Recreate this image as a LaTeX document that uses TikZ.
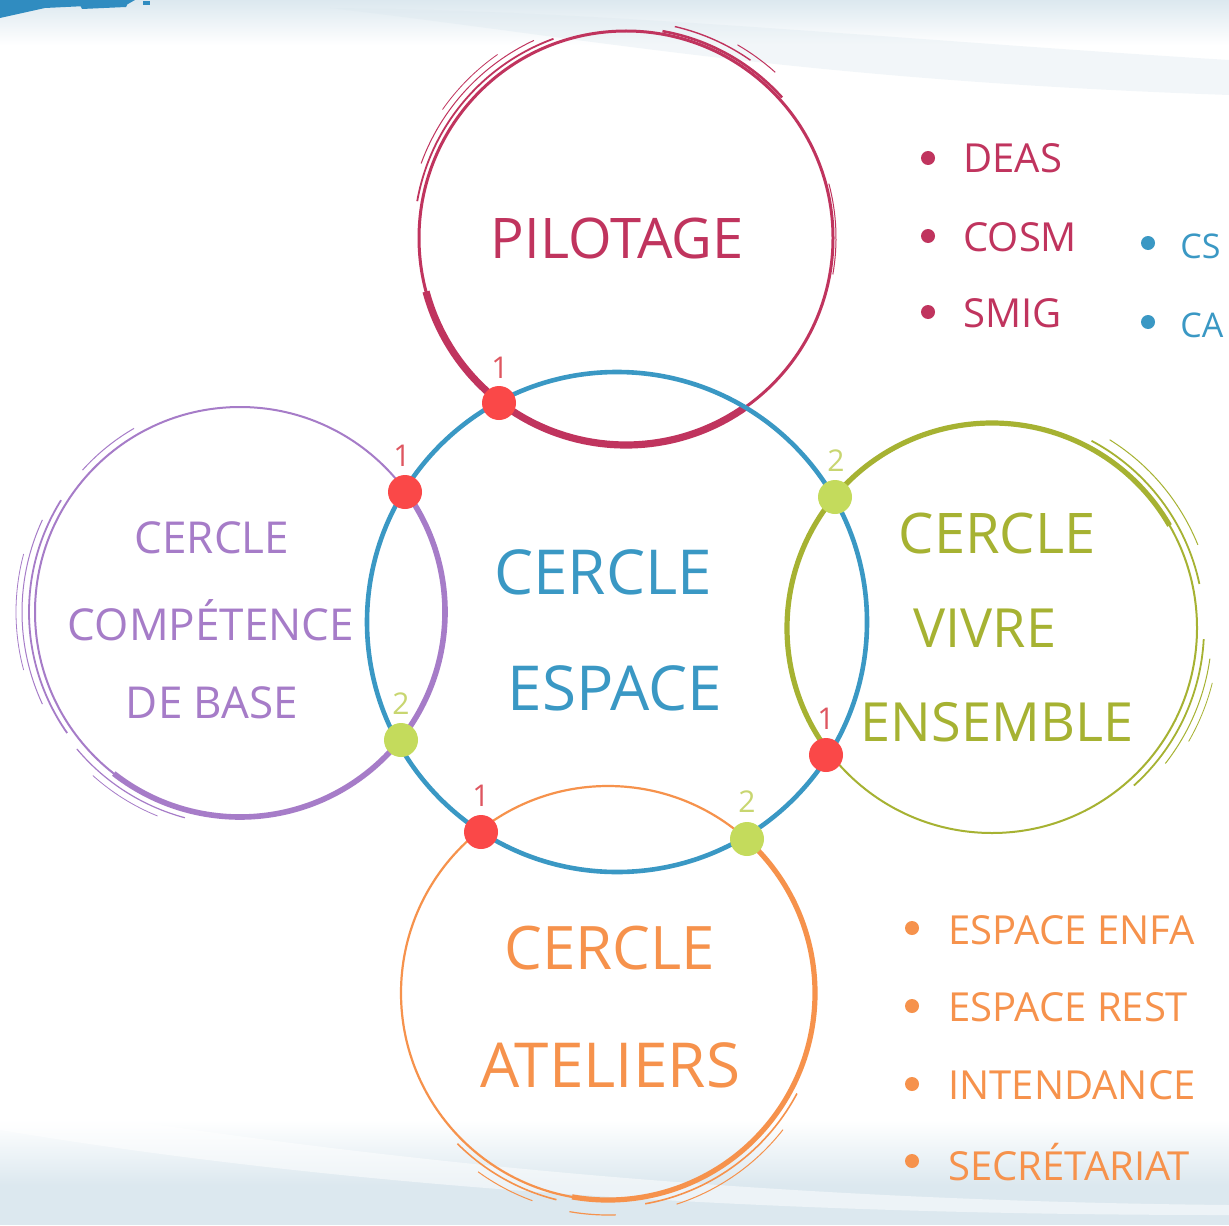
\documentclass[tikz,border=0pt]{standalone}
\usepackage{fontspec}
\setmainfont{Open Sans}
\usetikzlibrary{calc}
\definecolor{pilc}{RGB}{192,52,94}
\definecolor{bluc}{RGB}{58,152,196}
\definecolor{purc}{RGB}{166,124,200}
\definecolor{grnc}{RGB}{166,178,50}
\definecolor{orac}{RGB}{246,146,76}
\definecolor{dotred}{RGB}{250,72,72}
\definecolor{dotgrn}{RGB}{196,219,92}
\definecolor{lblred}{RGB}{222,86,96}
\definecolor{lblgrn}{RGB}{200,214,112}
\definecolor{bgband}{RGB}{220,232,239}
\definecolor{brush}{RGB}{48,140,192}
\newcommand\myfs[1]{\fontsize{#1}{#1}\selectfont}
% #1 style, #2 centre, #3 start angle, #4 end angle, #5 radius
\newcommand\skarc[5]{\draw[#1] (#2) ++(#3:#5) arc[start angle=#3, end angle=#4, radius=#5];}
\tikzset{
  ttl/.style={inner sep=0pt, anchor=center},
  dotnode/.style={circle, inner sep=0pt, minimum size=17pt, draw=none},
  numlbl/.style={inner sep=0pt, font=\myfs{15}},
  bullet/.style={circle, inner sep=0pt, minimum size=7pt, draw=none},
  item/.style={inner sep=0pt, anchor=west, font=\myfs{20}},
}
\begin{document}
\begin{tikzpicture}[x=0.5pt,y=-0.5pt]
\useasboundingbox (0,0) rectangle (1229,1225);
% background
\begin{scope}
\clip (0,0) rectangle (1229,1225);
\fill[white] (0,0) rectangle (1229,1225);
\fill[top color=bgband, bottom color=white] (0,0) rectangle (1229,45);
\fill[bgband, opacity=0.35] (330,8) .. controls (600,40) and (800,80) .. (1229,95) -- (1229,60) .. controls (900,40) and (600,10) .. (330,8) -- cycle;
\fill[top color=white, bottom color=bgband] (0,1120) rectangle (1229,1185);
\fill[bgband] (0,1185) rectangle (1229,1225);
\fill[white, opacity=0.5] (0,1100) .. controls (300,1150) and (700,1200) .. (1229,1205) -- (1229,1215) .. controls (700,1215) and (300,1180) .. (0,1130) -- cycle;
\fill[brush] (0,0) -- (135,0) -- (128,4) -- (45,8) -- (0,18) -- cycle;
\fill[brush] (80,5) -- (128,3) -- (126,7) -- (82,9) -- cycle;
\fill[brush] (143,1) -- (150,1) -- (150,5) -- (143,5) -- cycle;
\end{scope}

% centres
\coordinate (cP) at (626,238);
\coordinate (cB) at (617,622);
\coordinate (cC) at (240,612);
\coordinate (cG) at (992,628);
\coordinate (cO) at (608,993);

% PILOTAGE circle
\draw[pilc, line width=1.5pt] (cP) circle[radius=207];
\skarc{pilc, line width=3.6pt}{cP}{165}{55}{207}
\skarc{pilc, line width=0.9pt}{cP}{190}{250}{212}
\skarc{pilc, line width=0.5pt}{cP}{200}{245}{218}
\skarc{pilc, line width=0.4pt}{cP}{215}{235}{224}
\skarc{pilc, line width=1.3pt}{cP}{280}{318}{210}
\skarc{pilc, line width=0.7pt}{cP}{283}{305}{217}
\skarc{pilc, line width=0.5pt}{cP}{300}{312}{223}
\skarc{pilc, line width=0.5pt}{cP}{-15}{10}{210}

% COMPETENCE circle
\draw[purc, line width=1pt] (cC) circle[radius=205];
\skarc{purc, line width=2.8pt}{cC}{-35}{128}{205}
\skarc{purc, line width=0.9pt}{cC}{145}{212}{211}
\skarc{purc, line width=0.5pt}{cC}{155}{205}{218}
\skarc{purc, line width=0.4pt}{cC}{165}{195}{224}
\skarc{purc, line width=0.6pt}{cC}{105}{140}{213}
\skarc{purc, line width=0.4pt}{cC}{112}{132}{220}
\skarc{purc, line width=0.5pt}{cC}{222}{240}{212}

% VIVRE ENSEMBLE circle
\draw[grnc, line width=1pt] (cG) circle[radius=205];
\skarc{grnc, line width=2.6pt}{cG}{140}{330}{205}
\skarc{grnc, line width=0.9pt}{cG}{-62}{-12}{212}
\skarc{grnc, line width=0.5pt}{cG}{-58}{-22}{222}
\skarc{grnc, line width=0.9pt}{cG}{3}{48}{212}
\skarc{grnc, line width=0.5pt}{cG}{8}{38}{220}
\skarc{grnc, line width=0.4pt}{cG}{14}{30}{227}

% ATELIERS circle
\draw[orac, line width=1.1pt] (cO) circle[radius=207];
\skarc{orac, line width=2.6pt}{cO}{-50}{100}{207}
\skarc{orac, line width=0.8pt}{cO}{28}{80}{214}
\skarc{orac, line width=0.5pt}{cO}{38}{72}{222}
\skarc{orac, line width=0.8pt}{cO}{104}{135}{213}
\skarc{orac, line width=0.5pt}{cO}{110}{126}{221}
\skarc{orac, line width=0.6pt}{cO}{88}{100}{222}

% ESPACE circle
\draw[bluc, line width=2.3pt] (cB) circle[radius=250];

% titles
\node[ttl, pilc, font=\myfs{28}] (tPil) at (617,238) {PILOTAGE};
\node[ttl, bluc, font=\myfs{31}] (tB1) at (603,572) {CERCLE};
\node[ttl, bluc, font=\myfs{31}] (tB2) at (615,688) {ESPACE};
\node[ttl, purc, font=\myfs{22}] (tC1) at (212,538) {CERCLE};
\node[ttl, purc, font=\myfs{22}] (tC2) at (211,620) {COMPÉTENCE};
\node[ttl, purc, font=\myfs{22}] (tC3) at (212,703) {DE BASE};
\node[ttl, grnc, font=\myfs{28}] (tG1) at (997,533) {CERCLE};
\node[ttl, grnc, font=\myfs{27}] (tG2) at (985,628) {VIVRE};
\node[ttl, grnc, font=\myfs{27}] (tG3) at (997,722) {ENSEMBLE};
\node[ttl, orac, font=\myfs{30}] (tO1) at (610,948) {CERCLE};
\node[ttl, orac, font=\myfs{31}] (tO2) at (610,1065) {ATELIERS};

% intersection dots
\node[dotnode, fill=dotred] (dPB) at (499,403) {};
\node[dotnode, fill=dotred] (dCB1) at (405,492) {};
\node[dotnode, fill=dotgrn] (dCB2) at (401,740) {};
\node[dotnode, fill=dotred] (dOB1) at (481,832) {};
\node[dotnode, fill=dotgrn] (dOB2) at (747,839) {};
\node[dotnode, fill=dotred] (dGB1) at (826,755) {};
\node[dotnode, fill=dotgrn] (dGB2) at (835,497) {};

% numbers
\node[numlbl, lblred] (nPB) at (500,368) {1};
\node[numlbl, lblred] (nCB1) at (402,456) {1};
\node[numlbl, lblgrn] (nCB2) at (401,704) {2};
\node[numlbl, lblred] (nOB1) at (481,796) {1};
\node[numlbl, lblgrn] (nOB2) at (747,802) {2};
\node[numlbl, lblred] (nGB1) at (826,719) {1};
\node[numlbl, lblgrn] (nGB2) at (836,461) {2};

% lists
\node[bullet, fill=pilc] (bP1) at (928,158) {};
\node[item, pilc] (iP1) at (963,158) {DEAS};
\node[bullet, fill=pilc] (bP2) at (928,236) {};
\node[item, pilc] (iP2) at (963,237) {COSM};
\node[bullet, fill=pilc] (bP3) at (928,312) {};
\node[item, pilc] (iP3) at (963,313) {SMIG};
\node[bullet, fill=bluc] (bB1) at (1148,243) {};
\node[item, bluc, font=\myfs{17}] (iB1) at (1180,246) {CS};
\node[bullet, fill=bluc] (bB2) at (1148,322) {};
\node[item, bluc, font=\myfs{17}] (iB2) at (1180,325) {CA};
\node[bullet, fill=orac] (bO1) at (912,928) {};
\node[item, orac] (iO1) at (948,930) {ESPACE ENFA};
\node[bullet, fill=orac] (bO2) at (912,1006) {};
\node[item, orac] (iO2) at (948,1007) {ESPACE REST};
\node[bullet, fill=orac] (bO3) at (912,1084) {};
\node[item, orac] (iO3) at (948,1085) {INTENDANCE};
\node[bullet, fill=orac] (bO4) at (912,1161) {};
\node[item, orac] (iO4) at (948,1162) {SECRÉTARIAT};
\end{tikzpicture}
\end{document}
